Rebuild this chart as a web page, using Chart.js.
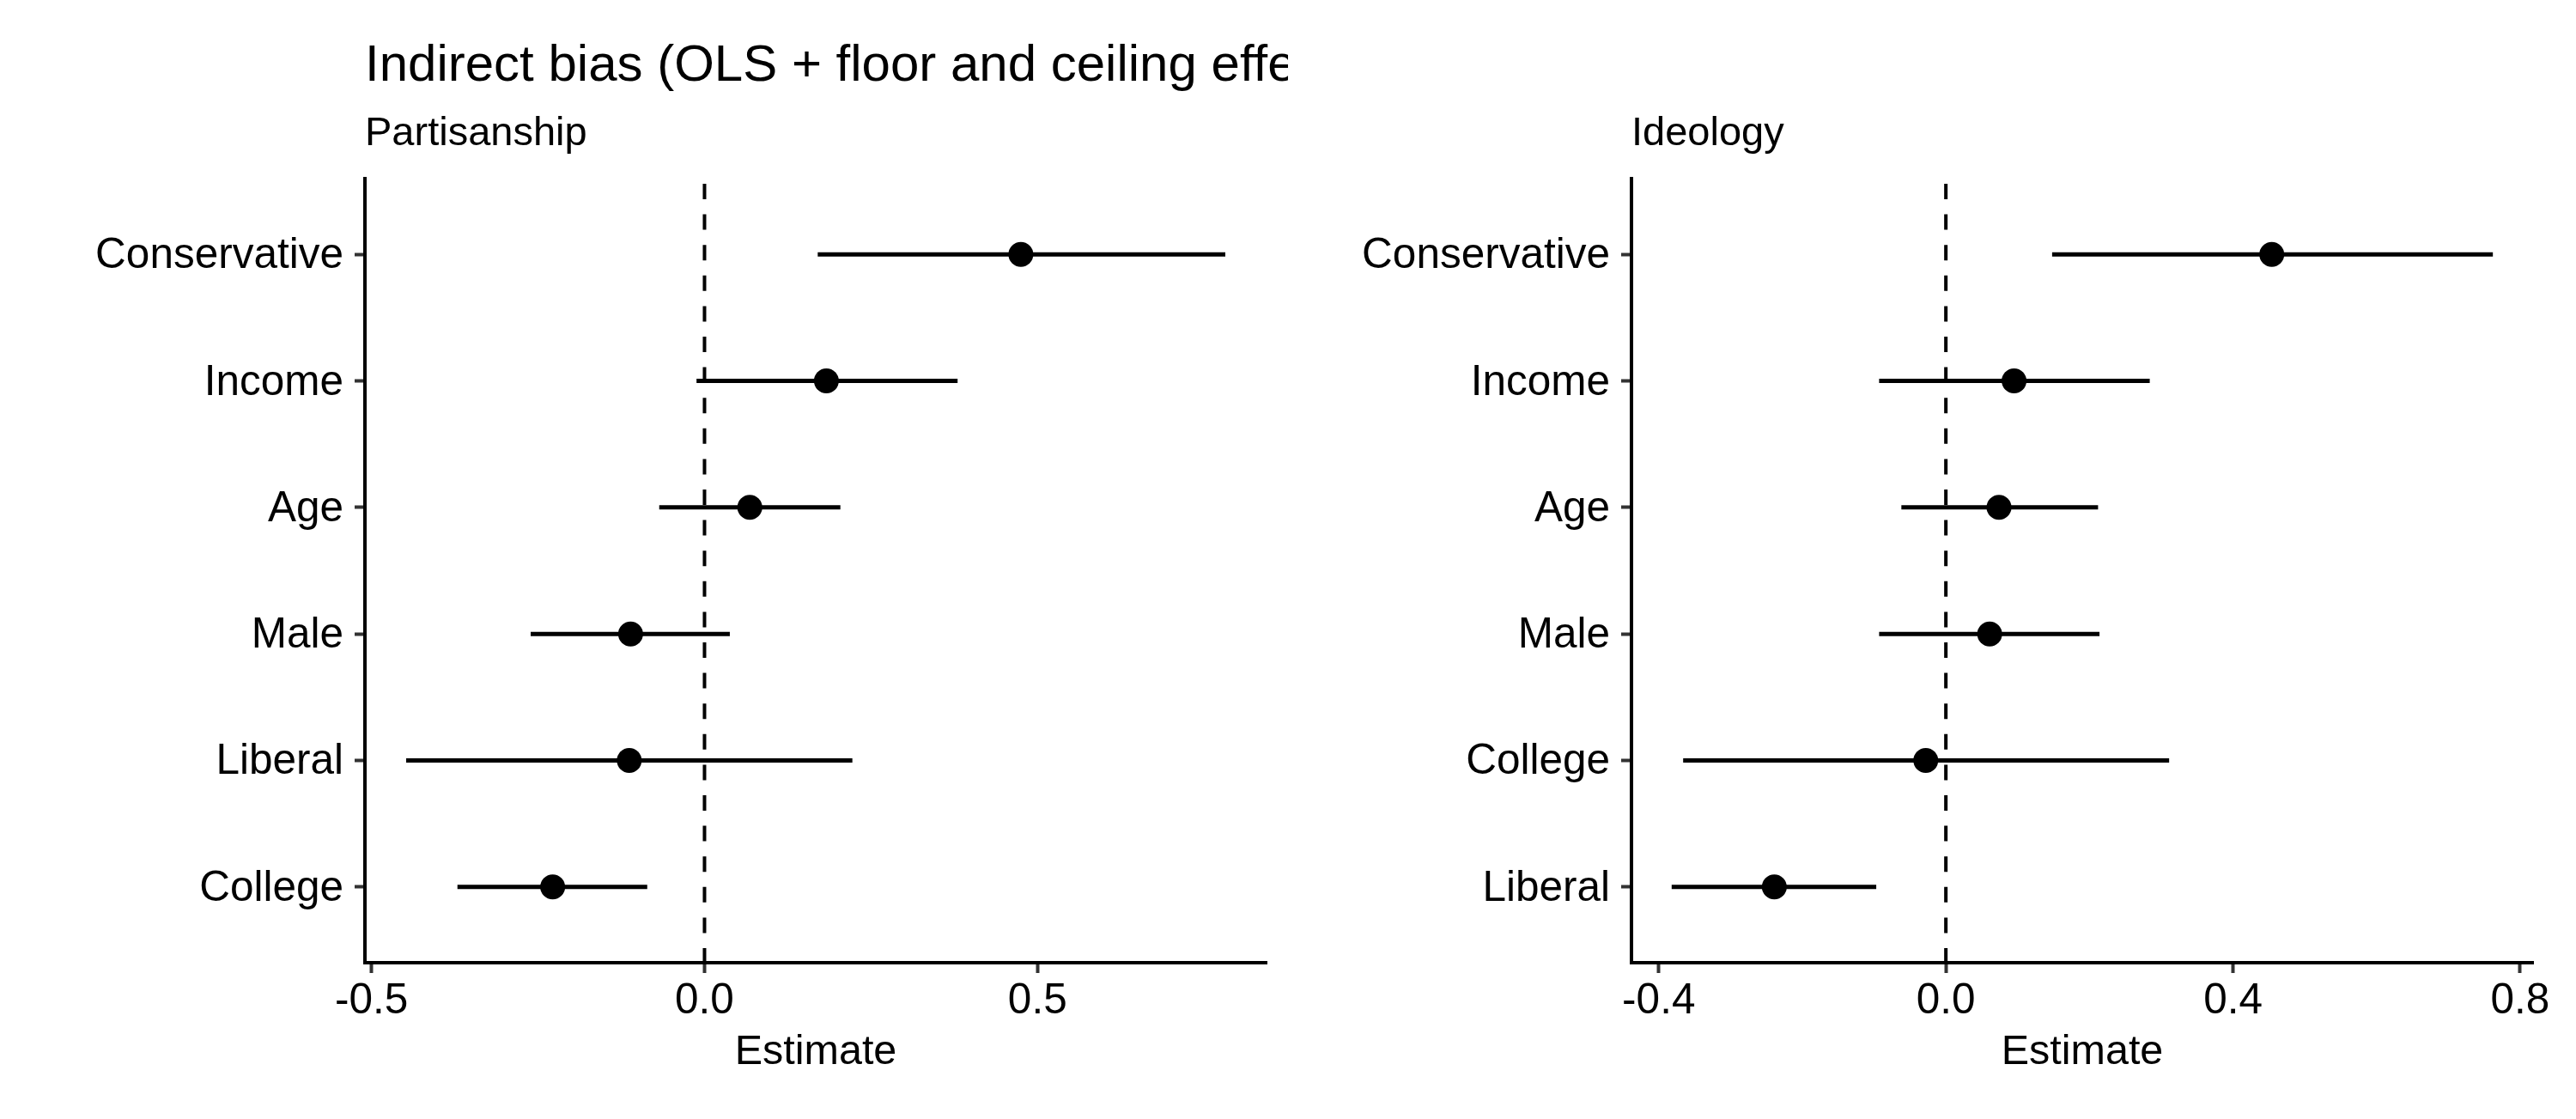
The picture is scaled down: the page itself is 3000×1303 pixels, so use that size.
<!DOCTYPE html>
<html>
<head>
<meta charset="utf-8">
<script src="https://cdn.jsdelivr.net/npm/chart.js@4.4.1/dist/chart.umd.min.js"></script>
<style>
html, body { margin: 0; padding: 0; background: #ffffff; }
#wrap { position: relative; width: 3000px; height: 1303px; overflow: hidden; background: #ffffff; }
#wrap canvas { position: absolute; top: 0; }
#c1 { left: 0; }
#c2 { left: 1500px; }
</style>
</head>
<body>
<div id="wrap">
  <canvas id="c1" width="1500" height="1303"></canvas>
  <canvas id="c2" width="1500" height="1303"></canvas>
</div>
<script>
// ---------- data ----------
const mainTitle = "Indirect bias (OLS + floor and ceiling effects)";
const xAxisTitle = "Estimate";
const referenceLine = 0;

const partisanshipTitle = "Partisanship";
const partisanshipCategories = ["Conservative", "Income", "Age", "Male", "Liberal", "College"];
const partisanshipEstimate = [0.475, 0.183, 0.068, -0.111, -0.113, -0.228];
const partisanshipLower    = [0.170, -0.012, -0.068, -0.261, -0.448, -0.371];
const partisanshipUpper    = [0.782, 0.380, 0.204, 0.038, 0.222, -0.086];
const partisanshipXTicks   = [-0.5, 0.0, 0.5];
const partisanshipXLimits  = [-0.5099, 0.8439];

const ideologyTitle = "Ideology";
const ideologyCategories = ["Conservative", "Income", "Age", "Male", "College", "Liberal"];
const ideologyEstimate = [0.454, 0.095, 0.074, 0.061, -0.028, -0.239];
const ideologyLower    = [0.148, -0.093, -0.062, -0.093, -0.366, -0.382];
const ideologyUpper    = [0.762, 0.284, 0.212, 0.214, 0.311, -0.097];
const ideologyXTicks   = [-0.4, 0.0, 0.4, 0.8];
const ideologyXLimits  = [-0.438, 0.818];

const discreteExpand = 0.6;

// ---------- chart ----------
const FONT_FAMILY = "'Liberation Sans', Arial, Helvetica, sans-serif";
Chart.defaults.font.family = FONT_FAMILY;
Chart.defaults.color = '#000000';

// Plot title drawn at the chart-area left edge without width compression
// (the canvas edge clips it, as in the original figure).
const panelTitlePlugin = {
  id: 'panelTitle',
  afterDraw(chart, args, opts) {
    if (!opts || !opts.text) return;
    const ctx = chart.ctx;
    ctx.save();
    ctx.font = 'normal ' + opts.size + 'px ' + FONT_FAMILY;
    ctx.fillStyle = '#000000';
    ctx.textAlign = 'left';
    ctx.textBaseline = 'middle';
    ctx.fillText(opts.text, chart.chartArea.left, opts.y);
    ctx.restore();
  }
};

function buildChart(canvasId, p) {
  const n = p.categories.length;
  const yPos = p.categories.map((c, i) => n - i);
  const datasets = [];
  datasets.push({
    type: 'scatter',
    data: p.estimate.map((v, i) => ({ x: v, y: yPos[i] })),
    pointRadius: 14.5,
    pointHoverRadius: 14.5,
    pointBackgroundColor: '#000000',
    pointBorderWidth: 0,
    showLine: false,
    order: 0
  });
  p.categories.forEach((c, i) => {
    datasets.push({
      type: 'line',
      label: c,
      data: [{ x: p.lower[i], y: yPos[i] }, { x: p.upper[i], y: yPos[i] }],
      borderColor: '#000000',
      borderWidth: 5,
      borderCapStyle: 'butt',
      pointRadius: 0,
      pointHoverRadius: 0,
      fill: false,
      tension: 0,
      order: 1
    });
  });
  datasets.push({
    type: 'line',
    data: [{ x: referenceLine, y: n + discreteExpand }, { x: referenceLine, y: 1 - discreteExpand }],
    borderColor: '#000000',
    borderWidth: 4,
    borderDash: [18, 17.6],
    borderDashOffset: 29.6,
    pointRadius: 0,
    pointHoverRadius: 0,
    fill: false,
    order: 2
  });

  const tickGrid = {
    display: true,
    drawOnChartArea: false,
    drawTicks: true,
    tickLength: 12,
    tickWidth: 4,
    tickColor: '#333333'
  };
  const axisBorder = { display: true, color: '#000000', width: 4 };

  return new Chart(document.getElementById(canvasId), {
    type: 'scatter',
    data: { datasets: datasets },
    plugins: [panelTitlePlugin],
    options: {
      responsive: false,
      animation: false,
      devicePixelRatio: 1,
      events: [],
      layout: { padding: p.padding },
      plugins: {
        legend: { display: false },
        tooltip: { enabled: false },
        title: { display: false },
        panelTitle: { text: p.title, size: 60, y: 77 },
        subtitle: {
          display: true,
          text: p.subtitle,
          align: 'start',
          fullSize: false,
          color: '#000000',
          font: { size: 47, weight: 'normal' },
          padding: { top: 18.1, bottom: 23.5 }
        }
      },
      scales: {
        x: {
          type: 'linear',
          position: 'bottom',
          min: p.xLimits[0],
          max: p.xLimits[1],
          afterBuildTicks: (s) => { s.ticks = p.xTicks.map(v => ({ value: v })); },
          afterFit: (s) => { s.height = 182; },
          ticks: {
            callback: (v) => Number(v).toFixed(1),
            font: { size: 49.5 },
            color: '#000000',
            padding: 3.2,
            maxRotation: 0,
            autoSkip: false
          },
          grid: tickGrid,
          border: axisBorder,
          title: {
            display: true,
            text: xAxisTitle,
            color: '#000000',
            font: { size: 48.5 },
            padding: { top: 0, bottom: 48.2 }
          }
        },
        y: {
          type: 'linear',
          position: 'left',
          min: 1 - discreteExpand,
          max: n + discreteExpand,
          afterBuildTicks: (s) => { s.ticks = yPos.map(v => ({ value: v })); },
          afterFit: (s) => { s.width = p.yAxisWidth; },
          ticks: {
            callback: (v) => p.categories[n - Math.round(v)],
            font: { size: 49.5 },
            color: '#000000',
            padding: 13,
            labelOffset: 2.4,
            autoSkip: false
          },
          grid: tickGrid,
          border: axisBorder
        }
      }
    }
  });
}

buildChart('c1', {
  title: mainTitle,
  subtitle: partisanshipTitle,
  categories: partisanshipCategories,
  estimate: partisanshipEstimate,
  lower: partisanshipLower,
  upper: partisanshipUpper,
  xTicks: partisanshipXTicks,
  xLimits: partisanshipXLimits,
  yAxisWidth: 425,
  padding: { top: 110, left: 0, right: 25, bottom: 0 }
});

buildChart('c2', {
  title: null,
  subtitle: ideologyTitle,
  categories: ideologyCategories,
  estimate: ideologyEstimate,
  lower: ideologyLower,
  upper: ideologyUpper,
  xTicks: ideologyXTicks,
  xLimits: ideologyXLimits,
  yAxisWidth: 400,
  padding: { top: 110, left: 0, right: 50, bottom: 0 }
});
</script>
</body>
</html>
